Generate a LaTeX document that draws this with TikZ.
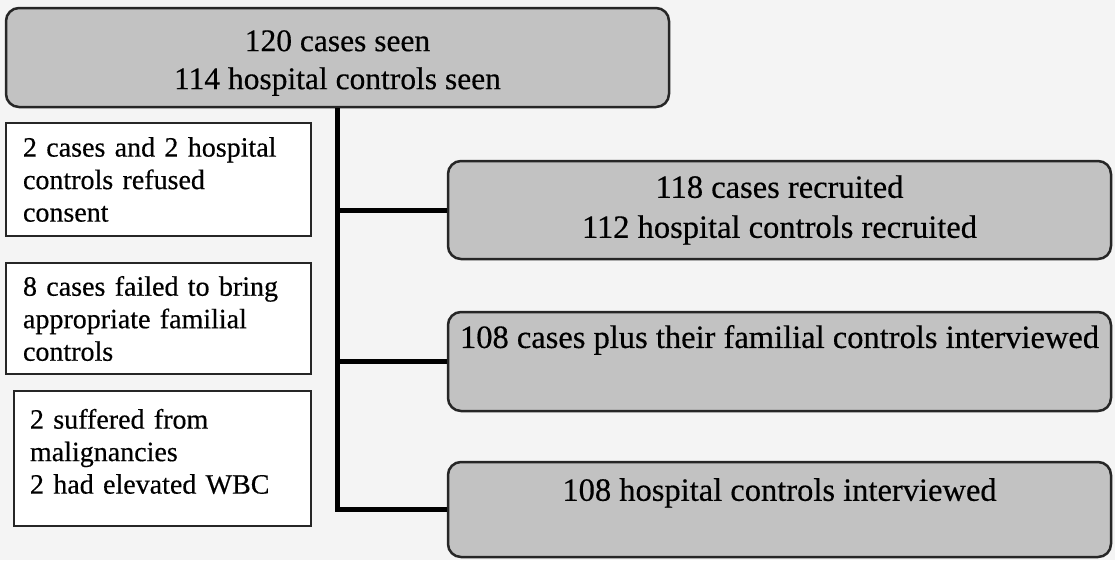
\documentclass[tikz,border=0pt]{standalone}
\usepackage{fontspec}
\setmainfont{Liberation Serif}[FakeBold=0.4]
\definecolor{bgc}{RGB}{244,244,244}
\definecolor{boxfill}{RGB}{194,194,194}
\tikzset{
  graybox/.style={draw=black!85, line width=2.5pt, fill=boxfill, rounded corners=13pt,
    align=center, inner sep=0pt, font=\fontsize{32.5}{40}\selectfont},
  notebox/.style={draw=black!85, line width=2.2pt, fill=white, align=left,
    inner ysep=0pt, font=\fontsize{28}{32.5}\selectfont},
  link/.style={line width=5pt, draw=black}
}
\begin{document}
\begin{tikzpicture}[x=1pt,y=-1pt]
\fill[bgc] (0,0) rectangle (1115,560);
\useasboundingbox (0,0) rectangle (1115,560);

\node[graybox, minimum width=663pt, minimum height=99pt, font=\fontsize{31.5}{38}\selectfont]
  (top) at (337.5,57.5) {\rule{0pt}{32pt}120 cases seen\\114 hospital controls seen};
\node[graybox, minimum width=663pt, minimum height=98pt] (b1) at (779.5,210)
  {118 cases recruited\\112 hospital controls recruited};
\node[graybox, minimum width=663pt, minimum height=99pt] (b2) at (779.5,361.5)
  {108 cases plus their familial controls interviewed\\[10pt]\mbox{}};
\node[graybox, minimum width=663pt, minimum height=95pt] (b3) at (779.5,509.5)
  {108 hospital controls interviewed\\\mbox{}};

\coordinate (j1) at (top.south |- b1.west);
\coordinate (j2) at (top.south |- b2.west);
\coordinate (j3) at (top.south |- b3.west);
\draw[link] (top.south) -- (j3);
\draw[link] ([xshift=-2.5pt]j1) -- (b1.west);
\draw[link] ([xshift=-2.5pt]j2) -- (b2.west);
\draw[link] ([xshift=-2.5pt]j3) -- (b3.west);

\node[notebox, text width=271pt, inner xsep=17pt, minimum height=113pt] (na) at (158.5,179.5)
  {2 cases and 2 hospital\\controls refused\\consent};
\node[notebox, text width=271pt, inner xsep=17pt, minimum height=111pt] (nb) at (158.5,318.5)
  {8 cases failed to bring\\appropriate familial\\controls};
\node[notebox, text width=265pt, inner xsep=16pt, minimum height=135pt] (nc) at (162.5,458.5)
  {2 suffered from\\malignancies\\2 had elevated WBC\\[-18pt]\mbox{}};
\end{tikzpicture}
\end{document}
